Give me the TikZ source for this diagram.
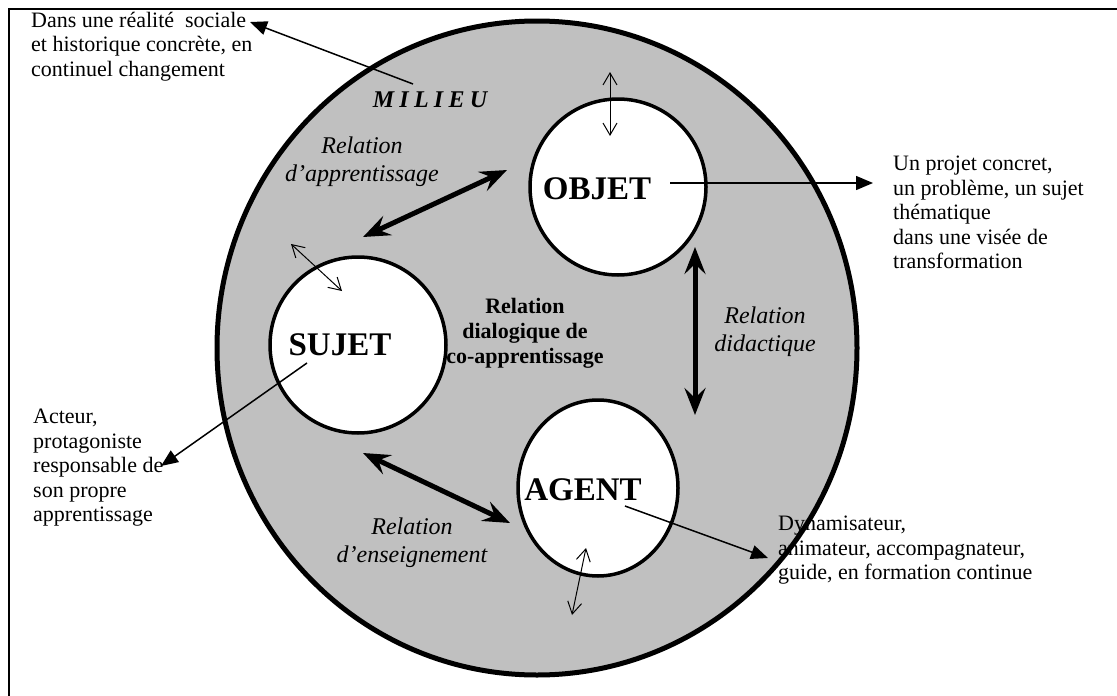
\documentclass[tikz,border=0pt]{standalone}
\usepackage{fontspec}
\setmainfont{Liberation Serif}
\usetikzlibrary{arrows.meta,shapes.geometric}
\definecolor{milieugray}{RGB}{192,192,192}

\begin{document}
\begin{tikzpicture}[x=1pt,y=-1pt,
  txt/.style={align=left, inner sep=0pt, anchor=north west, font=\fontsize{22}{24.5}\selectfont},
  rel/.style={align=center, inner sep=0pt, font=\fontsize{24}{28}\selectfont\itshape},
  pole/.style={draw, line width=3.5pt, fill=white, inner sep=0pt},
  pname/.style={inner sep=0pt, font=\fontsize{33}{36}\selectfont\bfseries},
  dbl/.style={line width=5pt, {Stealth[length=27pt,width=21pt,inset=10pt]}-{Stealth[length=27pt,width=21pt,inset=10pt]}},
  thin/.style={line width=1pt, {Straight Barb[length=12pt,width=14pt]}-{Straight Barb[length=12pt,width=14pt]}},
  pointer/.style={line width=1.5pt, -{Triangle[length=17pt,width=14pt]}}
]
\useasboundingbox (0,0) rectangle (1117,696);

% outer frame (top and left edges)
\draw[line width=1.5pt] (9,696) -- (9,9) -- (1117,9);

% the milieu
\draw[line width=5pt, fill=milieugray] (537,348) ellipse [x radius=320, y radius=327];

% the three poles
\node[pole, circle, minimum size=176pt] (objet) at (618,187) {};
\node[pole, circle, minimum size=176pt] (sujet) at (358,345) {};
\node[pole, ellipse, minimum width=160pt, minimum height=176pt] (agent) at (598,488) {};

\node[pname] (objetlbl) at (597,189) {OBJET};
\node[pname] (sujetlbl) at (340,345) {SUJET};
\node[pname] (agentlbl) at (583,490) {AGENT};

% milieu label
\node[inner sep=0pt, font=\fontsize{24}{28}\selectfont\bfseries\itshape\addfontfeature{LetterSpace=22}] (milieu) at (430,100) {MILIEU};

% relation labels
\node[rel] (relapp) at (362,162) {Relation\\d’apprentissage};
\node[rel] (reldid) at (765,332) {Relation\\didactique};
\node[rel] (relens) at (412,543) {Relation\\d’enseignement};
\node[align=center, inner sep=0pt, font=\fontsize{22}{25}\selectfont\bfseries] (dialog) at (525,333) {Relation\\dialogique de\\co-apprentissage};

% outside descriptions
\node[txt] (milieudesc) at (31,12) {Dans une réalité\ \ sociale\\et historique concrète, en\\continuel changement};
\node[txt] (objetdesc) at (893,156) {Un projet concret,\\un problème, un sujet\\thématique\\dans une visée de\\transformation};
\node[txt] (sujetdesc) at (33,409) {Acteur,\\protagoniste\\responsable de\\son propre\\apprentissage};
\node[txt] (agentdesc) at (778,516) {Dynamisateur,\\animateur, accompagnateur,\\guide, en formation continue};

% end points of the relation arrows
\coordinate (appA) at (363,237);
\coordinate (appB) at (507,170);
\coordinate (didA) at (695,247);
\coordinate (didB) at (695,415);
\coordinate (ensA) at (363,453);
\coordinate (ensB) at (510,523);

\draw[dbl] (appA) -- (appB);
\draw[dbl] (didA) -- (didB);
\draw[dbl] (ensA) -- (ensB);

% exchanges between each pole and the milieu
\coordinate (objX) at (610,72);
\coordinate (objY) at (610,136);
\coordinate (sujX) at (291,244);
\coordinate (sujY) at (342,291);
\coordinate (ageX) at (586,548);
\coordinate (ageY) at (572,615);

\draw[thin] (objX) -- (objY);
\draw[thin] (sujX) -- (sujY);
\draw[thin] (ageX) -- (ageY);

% pointers to the descriptions
\coordinate (milTail) at (413,84);
\coordinate (milTip) at (250,22);
\coordinate (objTail) at (670,183);
\coordinate (objTip) at (873,183);
\coordinate (sujTail) at (307,363);
\coordinate (sujTip) at (161,466);
\coordinate (ageTail) at (625,506);
\coordinate (ageTip) at (768,558);

\draw[pointer] (milTail) -- (milTip);
\draw[pointer] (objTail) -- (objTip);
\draw[pointer] (sujTail) -- (sujTip);
\draw[pointer] (ageTail) -- (ageTip);
\end{tikzpicture}
\end{document}
